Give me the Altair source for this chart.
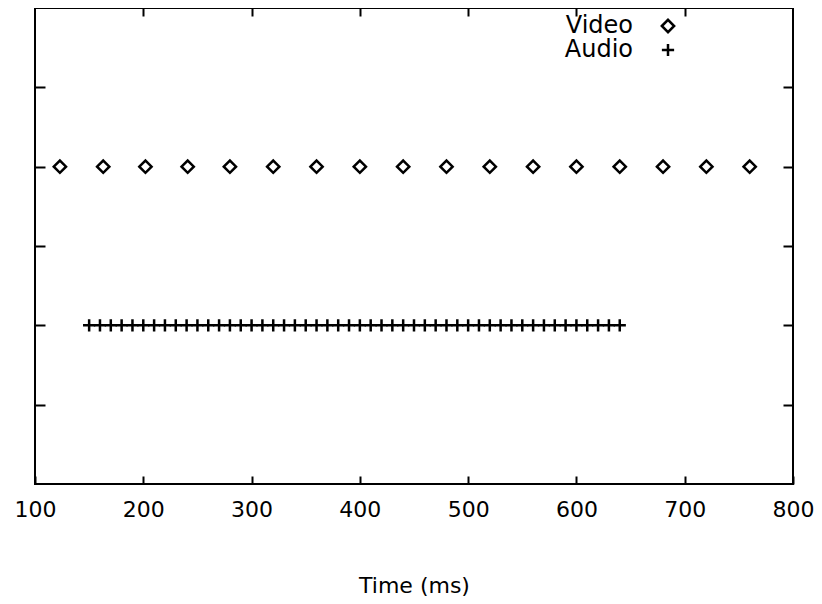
import altair as alt
import pandas as pd

# ---- data ----
video_times = [123, 163, 202, 241, 280, 320, 360, 400, 440, 480,
               520, 560, 600, 640, 680, 720, 760]
audio_times = [150, 160, 170, 180, 190, 200, 210, 220, 230, 240,
               250, 260, 270, 280, 290, 300, 310, 320, 330, 340,
               350, 360, 370, 380, 390, 400, 410, 420, 430, 440,
               450, 460, 470, 480, 490, 500, 510, 520, 530, 540,
               550, 560, 570, 580, 590, 600, 610, 620, 630, 640]
series_names = ["Video", "Audio"]
series_levels = [4, 2]
x_ticks = [100, 200, 300, 400, 500, 600, 700, 800]
x_ticks_top = [200, 300, 400, 500, 600, 700]
y_ticks = [1, 2, 3, 4, 5]
x_domain = [100, 800]
y_domain = [0, 6]

rows = []
for name, level, times in zip(series_names, series_levels, [video_times, audio_times]):
    for t in times:
        rows.append({"time": t, "level": level, "series": name})
df = pd.DataFrame(rows)

FONT = "DejaVu Sans"
plus_path = "M-1,0H1M0,-1V1"

x_scale = alt.Scale(domain=x_domain, nice=False, zero=False)
y_scale = alt.Scale(domain=y_domain, nice=False, zero=False)

points = alt.Chart(df).mark_point(
    filled=False, color="black", strokeWidth=2.5, size=150, opacity=1
).encode(
    x=alt.X("time:Q", scale=x_scale,
            axis=alt.Axis(orient="bottom", values=x_ticks, format="d", grid=False,
                          domain=False, tickSize=8, offset=-8, tickWidth=2,
                          tickColor="black", labelPadding=15, labelFontSize=22,
                          labelFlush=False, labelOverlap=False, labelBound=False,
                          labelFont=FONT, labelColor="black", title="Time (ms)",
                          titleFont=FONT, titleFontSize=22, titleFontWeight="normal",
                          titleColor="black", titlePadding=55)),
    y=alt.Y("level:Q", scale=y_scale,
            axis=alt.Axis(orient="left", values=y_ticks, labels=False, grid=False,
                          domain=False, tickSize=10, offset=-10, tickWidth=2,
                          tickColor="black", title=None)),
    shape=alt.Shape("series:N",
                    scale=alt.Scale(domain=series_names, range=["diamond", plus_path]),
                    legend=alt.Legend(title=None, orient="none", legendX=621, legendY=6,
                                      labelFont=FONT, labelFontSize=24, labelColor="black",
                                      labelAlign="right", labelOffset={"expr": "-47"},
                                      symbolSize=150, symbolStrokeWidth=2.5,
                                      symbolStrokeColor="black",
                                      rowPadding=0,
                                      padding=0)),
)

mirror = alt.Chart(df).mark_point(opacity=0).encode(
    x=alt.X("time:Q", scale=x_scale,
            axis=alt.Axis(orient="top", values=x_ticks_top, labels=False, grid=False,
                          domain=False, tickSize=8, offset=-8, tickWidth=2,
                          tickColor="black", title=None)),
    y=alt.Y("level:Q", scale=y_scale,
            axis=alt.Axis(orient="right", values=y_ticks, labels=False, grid=False,
                          domain=False, tickSize=10, offset=-10, tickWidth=2,
                          tickColor="black", title=None)),
)

chart = alt.layer(points, mirror).resolve_axis(
    x="independent", y="independent"
).properties(
    width=758, height=476,
    autosize=alt.AutoSizeParams(type="none"),
    padding={"left": 27, "top": 0, "right": 21, "bottom": 116},
    background="white",
).configure_view(stroke="black", strokeWidth=2)

chart.save("out.html", embed_options={"renderer": "svg", "actions": False})
